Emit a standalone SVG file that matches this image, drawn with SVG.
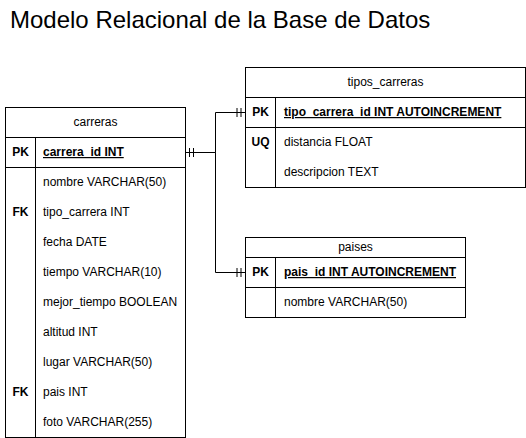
<svg xmlns="http://www.w3.org/2000/svg" width="526" height="438" viewBox="0 0 526 438">
<style>
text{font-family:"Liberation Sans",Arial,Helvetica,sans-serif;font-size:12px;fill:#000}
.title{font-size:24px}
.hd{text-anchor:middle}
.key{text-anchor:middle;font-weight:bold}
.pk{font-weight:bold;text-decoration:underline}
.box{fill:#fff;stroke:#000;stroke-width:1}
.ln{stroke:#000;stroke-width:1;fill:none}
</style>
<defs>
<marker id="one" markerUnits="userSpaceOnUse" viewBox="-10 -6 12 12" markerWidth="12" markerHeight="12" refX="0" refY="0" orient="auto-start-reverse">
<path d="M-4,-4.5V4.5M-8,-4.5V4.5" stroke="#000" stroke-width="1" fill="none"/>
</marker>
</defs>
<rect width="526" height="438" fill="#fff"/>
<text class="title" x="10" y="28">Modelo Relacional de la Base de Datos</text>
<g id="connectors">
<path class="ln" d="M185.5,152.5H215.5V112.5H245" marker-start="url(#one)" marker-end="url(#one)"/>
<path class="ln" d="M185.5,152.5H215.5V272.5H245" marker-start="url(#one)" marker-end="url(#one)"/>
</g>
<g id="carreras">
<rect class="box" x="5.5" y="107.5" width="180" height="330"/>
<path class="ln" d="M5.5,137.5H185.5M5.5,167.5H185.5M35.5,137.5V437.5"/>
<text class="hd" x="95.5" y="126">carreras</text>
<text class="key" x="20.5" y="156">PK</text>
<text class="pk" x="43" y="156">carrera_id INT</text>
<text x="43" y="186">nombre VARCHAR(50)</text>
<text class="key" x="20.5" y="216">FK</text>
<text x="43" y="216">tipo_carrera INT</text>
<text x="43" y="246">fecha DATE</text>
<text x="43" y="276">tiempo VARCHAR(10)</text>
<text x="43" y="306">mejor_tiempo BOOLEAN</text>
<text x="43" y="336">altitud INT</text>
<text x="43" y="366">lugar VARCHAR(50)</text>
<text class="key" x="20.5" y="396">FK</text>
<text x="43" y="396">pais INT</text>
<text x="43" y="426">foto VARCHAR(255)</text>
</g>
<g id="tipos_carreras">
<rect class="box" x="245.5" y="67.5" width="280" height="120"/>
<path class="ln" d="M245.5,97.5H525.5M245.5,127.5H525.5M275.5,97.5V187.5"/>
<text class="hd" x="385.5" y="86">tipos_carreras</text>
<text class="key" x="260.5" y="116">PK</text>
<text class="pk" x="284" y="116">tipo_carrera_id INT AUTOINCREMENT</text>
<text class="key" x="260.5" y="146">UQ</text>
<text x="284" y="146">distancia FLOAT</text>
<text x="284" y="176">descripcion TEXT</text>
</g>
<g id="paises">
<rect class="box" x="245.5" y="237.5" width="220" height="80"/>
<path class="ln" d="M245.5,257.5H465.5M245.5,287.5H465.5M275.5,257.5V317.5"/>
<text class="hd" x="355.5" y="251">paises</text>
<text class="key" x="260.5" y="276">PK</text>
<text class="pk" x="284" y="276">pais_id INT AUTOINCREMENT</text>
<text x="284" y="306">nombre VARCHAR(50)</text>
</g>
</svg>
